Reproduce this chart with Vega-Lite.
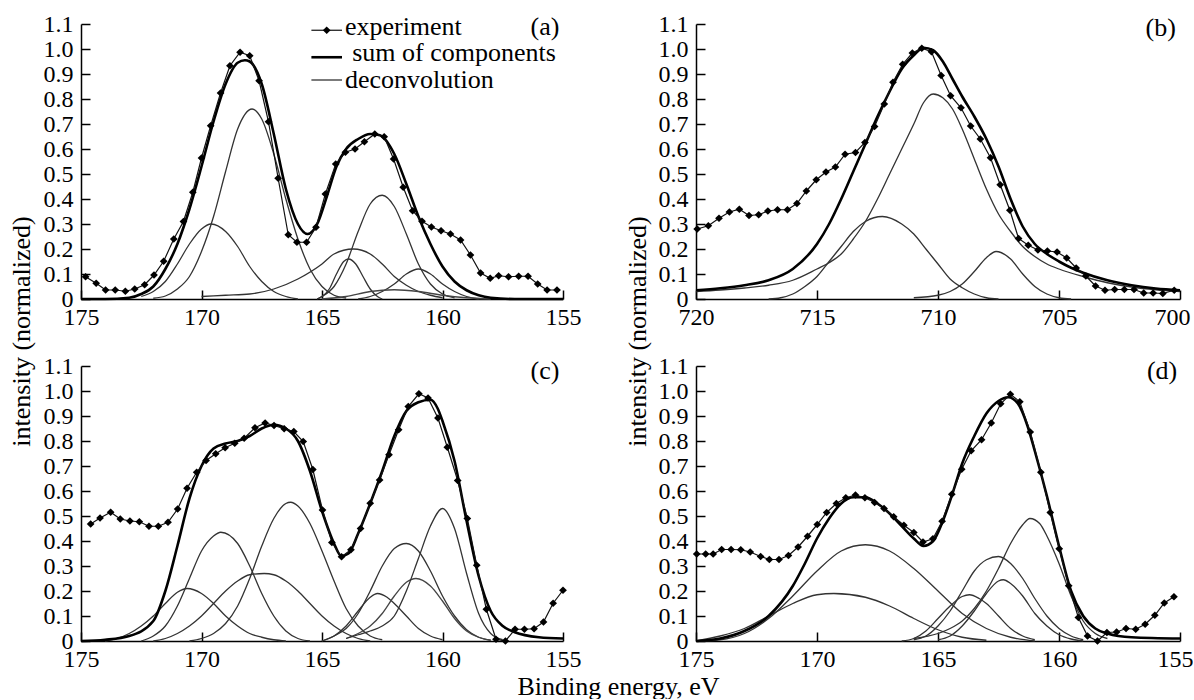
{
"$schema": "https://vega.github.io/schema/vega-lite/v6.json",
"padding": {"left": 8, "top": 12, "right": 0, "bottom": 0},
"background": "white",
"config": {
  "font": "Liberation Serif",
  "view": {"stroke": null},
  "axis": {"labelFont": "Liberation Serif", "labelFontSize": 24, "labelOverlap": false, "labelFlush": false, "labelBound": false, "titleFont": "Liberation Serif", "titleFontSize": 26, "titleFontWeight": "normal"},
  "text": {"font": "Liberation Serif", "fontSize": 26, "color": "#000"}
},
"datasets": {
"a": [
{"s":"exp","x":174.81,"y":0.089},{"s":"exp","x":174.37,"y":0.063},{"s":"exp","x":173.98,"y":0.036},{"s":"exp","x":173.58,"y":0.036},{"s":"exp","x":173.16,"y":0.031},{"s":"exp","x":172.77,"y":0.04},{"s":"exp","x":172.36,"y":0.057},{"s":"exp","x":171.97,"y":0.096},{"s":"exp","x":171.57,"y":0.151},{"s":"exp","x":171.15,"y":0.24},{"s":"exp","x":170.75,"y":0.31},{"s":"exp","x":170.36,"y":0.427},{"s":"exp","x":170.0,"y":0.564},{"s":"exp","x":169.62,"y":0.693},{"s":"exp","x":169.21,"y":0.824},{"s":"exp","x":168.82,"y":0.933},{"s":"exp","x":168.4,"y":0.987},{"s":"exp","x":168.0,"y":0.973},{"s":"exp","x":167.61,"y":0.873},{"s":"exp","x":167.22,"y":0.709},{"s":"exp","x":166.82,"y":0.483},{"s":"exp","x":166.4,"y":0.257},{"s":"exp","x":166.04,"y":0.227},{"s":"exp","x":165.64,"y":0.227},{"s":"exp","x":165.25,"y":0.287},{"s":"exp","x":164.86,"y":0.42},{"s":"exp","x":164.43,"y":0.54},{"s":"exp","x":164.03,"y":0.587},{"s":"exp","x":163.63,"y":0.6},{"s":"exp","x":163.24,"y":0.629},{"s":"exp","x":162.81,"y":0.66},{"s":"exp","x":162.42,"y":0.649},{"s":"exp","x":162.03,"y":0.56},{"s":"exp","x":161.63,"y":0.447},{"s":"exp","x":161.24,"y":0.353},{"s":"exp","x":160.85,"y":0.311},{"s":"exp","x":160.46,"y":0.288},{"s":"exp","x":160.06,"y":0.273},{"s":"exp","x":159.67,"y":0.26},{"s":"exp","x":159.25,"y":0.236},{"s":"exp","x":158.84,"y":0.176},{"s":"exp","x":158.42,"y":0.104},{"s":"exp","x":158.02,"y":0.083},{"s":"exp","x":157.67,"y":0.093},{"s":"exp","x":157.26,"y":0.089},{"s":"exp","x":156.84,"y":0.091},{"s":"exp","x":156.45,"y":0.091},{"s":"exp","x":156.05,"y":0.06},{"s":"exp","x":155.66,"y":0.036},{"s":"exp","x":155.25,"y":0.036},
{"s":"sum","x":175,"y":0.0},{"s":"sum","x":174,"y":0.0},{"s":"sum","x":173,"y":0.005},{"s":"sum","x":172.5,"y":0.02},{"s":"sum","x":172,"y":0.05},{"s":"sum","x":171.5,"y":0.12},{"s":"sum","x":171,"y":0.22},{"s":"sum","x":170.5,"y":0.36},{"s":"sum","x":170,"y":0.53},{"s":"sum","x":169.5,"y":0.71},{"s":"sum","x":169,"y":0.86},{"s":"sum","x":168.5,"y":0.945},{"s":"sum","x":168.2,"y":0.955},{"s":"sum","x":168,"y":0.95},{"s":"sum","x":167.5,"y":0.86},{"s":"sum","x":167,"y":0.66},{"s":"sum","x":166.5,"y":0.44},{"s":"sum","x":166,"y":0.3},{"s":"sum","x":165.6,"y":0.26},{"s":"sum","x":165.2,"y":0.3},{"s":"sum","x":164.8,"y":0.41},{"s":"sum","x":164.4,"y":0.53},{"s":"sum","x":164,"y":0.6},{"s":"sum","x":163.5,"y":0.64},{"s":"sum","x":163,"y":0.66},{"s":"sum","x":162.6,"y":0.655},{"s":"sum","x":162,"y":0.58},{"s":"sum","x":161.5,"y":0.46},{"s":"sum","x":161,"y":0.33},{"s":"sum","x":160.5,"y":0.22},{"s":"sum","x":160,"y":0.13},{"s":"sum","x":159.5,"y":0.07},{"s":"sum","x":159,"y":0.035},{"s":"sum","x":158.5,"y":0.015},{"s":"sum","x":158,"y":0.005},{"s":"sum","x":157,"y":0.0},{"s":"sum","x":155,"y":0.0},
{"s":"c1","x":172,"y":0.003},{"s":"c1","x":171.5,"y":0.012},{"s":"c1","x":171,"y":0.04},{"s":"c1","x":170.5,"y":0.09},{"s":"c1","x":170,"y":0.19},{"s":"c1","x":169.5,"y":0.33},{"s":"c1","x":169,"y":0.51},{"s":"c1","x":168.5,"y":0.68},{"s":"c1","x":167.9,"y":0.76},{"s":"c1","x":167.5,"y":0.72},{"s":"c1","x":167,"y":0.58},{"s":"c1","x":166.5,"y":0.4},{"s":"c1","x":166,"y":0.24},{"s":"c1","x":165.5,"y":0.12},{"s":"c1","x":165,"y":0.05},{"s":"c1","x":164.5,"y":0.015},{"s":"c1","x":164,"y":0.004},
{"s":"c2","x":172.5,"y":0.01},{"s":"c2","x":172,"y":0.03},{"s":"c2","x":171.5,"y":0.07},{"s":"c2","x":171,"y":0.14},{"s":"c2","x":170.5,"y":0.22},{"s":"c2","x":170,"y":0.28},{"s":"c2","x":169.6,"y":0.3},{"s":"c2","x":169,"y":0.27},{"s":"c2","x":168.5,"y":0.21},{"s":"c2","x":168,"y":0.13},{"s":"c2","x":167.5,"y":0.07},{"s":"c2","x":167,"y":0.03},{"s":"c2","x":166.5,"y":0.01},{"s":"c2","x":166,"y":0.0},
{"s":"c3","x":170,"y":0.01},{"s":"c3","x":169,"y":0.015},{"s":"c3","x":168,"y":0.02},{"s":"c3","x":167,"y":0.04},{"s":"c3","x":166,"y":0.08},{"s":"c3","x":165,"y":0.14},{"s":"c3","x":164.5,"y":0.18},{"s":"c3","x":163.7,"y":0.2},{"s":"c3","x":163,"y":0.18},{"s":"c3","x":162.5,"y":0.14},{"s":"c3","x":162,"y":0.09},{"s":"c3","x":161.5,"y":0.055},{"s":"c3","x":161,"y":0.03},{"s":"c3","x":160.5,"y":0.015},{"s":"c3","x":160,"y":0.005},
{"s":"c4","x":165.2,"y":0.0},{"s":"c4","x":165,"y":0.01},{"s":"c4","x":164.7,"y":0.04},{"s":"c4","x":164.4,"y":0.1},{"s":"c4","x":164.1,"y":0.15},{"s":"c4","x":163.9,"y":0.16},{"s":"c4","x":163.6,"y":0.14},{"s":"c4","x":163.3,"y":0.09},{"s":"c4","x":163,"y":0.04},{"s":"c4","x":162.7,"y":0.01},{"s":"c4","x":162.5,"y":0.0},
{"s":"c5","x":165.2,"y":0.0},{"s":"c5","x":165,"y":0.01},{"s":"c5","x":164.5,"y":0.05},{"s":"c5","x":164,"y":0.14},{"s":"c5","x":163.5,"y":0.27},{"s":"c5","x":163,"y":0.38},{"s":"c5","x":162.5,"y":0.415},{"s":"c5","x":162,"y":0.37},{"s":"c5","x":161.5,"y":0.26},{"s":"c5","x":161,"y":0.14},{"s":"c5","x":160.5,"y":0.06},{"s":"c5","x":160,"y":0.02},{"s":"c5","x":159.5,"y":0.005},
{"s":"c6","x":163.5,"y":0.0},{"s":"c6","x":163,"y":0.01},{"s":"c6","x":162.5,"y":0.03},{"s":"c6","x":162,"y":0.06},{"s":"c6","x":161.5,"y":0.1},{"s":"c6","x":161,"y":0.12},{"s":"c6","x":160.5,"y":0.1},{"s":"c6","x":160,"y":0.06},{"s":"c6","x":159.5,"y":0.03},{"s":"c6","x":159,"y":0.01},{"s":"c6","x":158.5,"y":0.0},
{"s":"c7","x":165,"y":0.0},{"s":"c7","x":164,"y":0.01},{"s":"c7","x":163,"y":0.03},{"s":"c7","x":162,"y":0.037},{"s":"c7","x":161,"y":0.03},{"s":"c7","x":160,"y":0.015},{"s":"c7","x":159,"y":0.005},{"s":"c7","x":158,"y":0.0}
],
"b": [
{"s":"exp","x":719.95,"y":0.28},{"s":"exp","x":719.49,"y":0.293},{"s":"exp","x":719.05,"y":0.323},{"s":"exp","x":718.62,"y":0.348},{"s":"exp","x":718.21,"y":0.359},{"s":"exp","x":717.81,"y":0.334},{"s":"exp","x":717.41,"y":0.337},{"s":"exp","x":717.03,"y":0.352},{"s":"exp","x":716.63,"y":0.357},{"s":"exp","x":716.22,"y":0.357},{"s":"exp","x":715.83,"y":0.382},{"s":"exp","x":715.44,"y":0.432},{"s":"exp","x":715.03,"y":0.477},{"s":"exp","x":714.63,"y":0.508},{"s":"exp","x":714.24,"y":0.528},{"s":"exp","x":713.84,"y":0.579},{"s":"exp","x":713.41,"y":0.586},{"s":"exp","x":713.02,"y":0.626},{"s":"exp","x":712.62,"y":0.69},{"s":"exp","x":712.22,"y":0.78},{"s":"exp","x":711.86,"y":0.867},{"s":"exp","x":711.46,"y":0.939},{"s":"exp","x":711.06,"y":0.984},{"s":"exp","x":710.67,"y":1.003},{"s":"exp","x":710.27,"y":0.989},{"s":"exp","x":709.87,"y":0.894},{"s":"exp","x":709.48,"y":0.813},{"s":"exp","x":709.05,"y":0.765},{"s":"exp","x":708.65,"y":0.692},{"s":"exp","x":708.25,"y":0.64},{"s":"exp","x":707.83,"y":0.565},{"s":"exp","x":707.43,"y":0.457},{"s":"exp","x":707.03,"y":0.355},{"s":"exp","x":706.67,"y":0.242},{"s":"exp","x":706.27,"y":0.215},{"s":"exp","x":705.87,"y":0.196},{"s":"exp","x":705.48,"y":0.192},{"s":"exp","x":705.08,"y":0.188},{"s":"exp","x":704.68,"y":0.164},{"s":"exp","x":704.29,"y":0.124},{"s":"exp","x":703.89,"y":0.092},{"s":"exp","x":703.49,"y":0.052},{"s":"exp","x":703.1,"y":0.035},{"s":"exp","x":702.7,"y":0.038},{"s":"exp","x":702.3,"y":0.038},{"s":"exp","x":701.9,"y":0.038},{"s":"exp","x":701.5,"y":0.024},{"s":"exp","x":701.11,"y":0.024},{"s":"exp","x":700.71,"y":0.022},{"s":"exp","x":700.24,"y":0.035},
{"s":"sum","x":720,"y":0.035},{"s":"sum","x":719,"y":0.043},{"s":"sum","x":718,"y":0.055},{"s":"sum","x":717,"y":0.075},{"s":"sum","x":716,"y":0.12},{"s":"sum","x":715,"y":0.22},{"s":"sum","x":714.5,"y":0.3},{"s":"sum","x":714,"y":0.4},{"s":"sum","x":713.5,"y":0.51},{"s":"sum","x":713,"y":0.62},{"s":"sum","x":712.5,"y":0.73},{"s":"sum","x":712,"y":0.83},{"s":"sum","x":711.5,"y":0.92},{"s":"sum","x":711,"y":0.975},{"s":"sum","x":710.6,"y":1.005},{"s":"sum","x":710.2,"y":0.995},{"s":"sum","x":709.8,"y":0.95},{"s":"sum","x":709.4,"y":0.88},{"s":"sum","x":709,"y":0.81},{"s":"sum","x":708.5,"y":0.73},{"s":"sum","x":708,"y":0.64},{"s":"sum","x":707.5,"y":0.53},{"s":"sum","x":707,"y":0.4},{"s":"sum","x":706.5,"y":0.29},{"s":"sum","x":706,"y":0.22},{"s":"sum","x":705.5,"y":0.18},{"s":"sum","x":705,"y":0.15},{"s":"sum","x":704.5,"y":0.125},{"s":"sum","x":704,"y":0.105},{"s":"sum","x":703,"y":0.075},{"s":"sum","x":702,"y":0.055},{"s":"sum","x":701,"y":0.042},{"s":"sum","x":700,"y":0.035},
{"s":"c1","x":720,"y":0.03},{"s":"c1","x":719,"y":0.036},{"s":"c1","x":718,"y":0.044},{"s":"c1","x":717,"y":0.055},{"s":"c1","x":716,"y":0.075},{"s":"c1","x":715,"y":0.12},{"s":"c1","x":714.5,"y":0.145},{"s":"c1","x":714,"y":0.18},{"s":"c1","x":713.5,"y":0.24},{"s":"c1","x":713,"y":0.31},{"s":"c1","x":712.5,"y":0.4},{"s":"c1","x":712,"y":0.5},{"s":"c1","x":711.5,"y":0.6},{"s":"c1","x":711,"y":0.7},{"s":"c1","x":710.6,"y":0.785},{"s":"c1","x":710.2,"y":0.82},{"s":"c1","x":709.8,"y":0.805},{"s":"c1","x":709.4,"y":0.76},{"s":"c1","x":709,"y":0.68},{"s":"c1","x":708.5,"y":0.56},{"s":"c1","x":708,"y":0.44},{"s":"c1","x":707.5,"y":0.34},{"s":"c1","x":707,"y":0.27},{"s":"c1","x":706.5,"y":0.21},{"s":"c1","x":706,"y":0.17},{"s":"c1","x":705.5,"y":0.14},{"s":"c1","x":705,"y":0.12},{"s":"c1","x":704,"y":0.09},{"s":"c1","x":703,"y":0.065},{"s":"c1","x":702,"y":0.048},{"s":"c1","x":701,"y":0.037},{"s":"c1","x":700,"y":0.03},
{"s":"c2","x":717,"y":0.0},{"s":"c2","x":716.5,"y":0.005},{"s":"c2","x":716,"y":0.02},{"s":"c2","x":715.5,"y":0.05},{"s":"c2","x":715,"y":0.09},{"s":"c2","x":714.5,"y":0.15},{"s":"c2","x":714,"y":0.21},{"s":"c2","x":713.5,"y":0.27},{"s":"c2","x":713,"y":0.31},{"s":"c2","x":712.3,"y":0.33},{"s":"c2","x":711.5,"y":0.3},{"s":"c2","x":711,"y":0.26},{"s":"c2","x":710.5,"y":0.2},{"s":"c2","x":710,"y":0.14},{"s":"c2","x":709.5,"y":0.08},{"s":"c2","x":709,"y":0.045},{"s":"c2","x":708.5,"y":0.02},{"s":"c2","x":708,"y":0.005},{"s":"c2","x":707.5,"y":0.0},
{"s":"c3","x":711,"y":0.005},{"s":"c3","x":710,"y":0.015},{"s":"c3","x":709.5,"y":0.03},{"s":"c3","x":709,"y":0.06},{"s":"c3","x":708.5,"y":0.11},{"s":"c3","x":708,"y":0.165},{"s":"c3","x":707.6,"y":0.19},{"s":"c3","x":707,"y":0.16},{"s":"c3","x":706.5,"y":0.1},{"s":"c3","x":706,"y":0.05},{"s":"c3","x":705.5,"y":0.02},{"s":"c3","x":705,"y":0.005},{"s":"c3","x":704.5,"y":0.0}
],
"c": [
{"s":"exp","x":174.6,"y":0.468},{"s":"exp","x":174.21,"y":0.492},{"s":"exp","x":173.77,"y":0.515},{"s":"exp","x":173.37,"y":0.488},{"s":"exp","x":172.97,"y":0.48},{"s":"exp","x":172.58,"y":0.477},{"s":"exp","x":172.18,"y":0.459},{"s":"exp","x":171.79,"y":0.459},{"s":"exp","x":171.39,"y":0.475},{"s":"exp","x":170.99,"y":0.528},{"s":"exp","x":170.6,"y":0.611},{"s":"exp","x":170.2,"y":0.675},{"s":"exp","x":169.81,"y":0.722},{"s":"exp","x":169.41,"y":0.749},{"s":"exp","x":169.02,"y":0.773},{"s":"exp","x":168.62,"y":0.791},{"s":"exp","x":168.23,"y":0.811},{"s":"exp","x":167.78,"y":0.853},{"s":"exp","x":167.36,"y":0.872},{"s":"exp","x":166.99,"y":0.862},{"s":"exp","x":166.57,"y":0.849},{"s":"exp","x":166.17,"y":0.838},{"s":"exp","x":165.78,"y":0.798},{"s":"exp","x":165.38,"y":0.686},{"s":"exp","x":164.98,"y":0.524},{"s":"exp","x":164.59,"y":0.394},{"s":"exp","x":164.19,"y":0.337},{"s":"exp","x":163.8,"y":0.365},{"s":"exp","x":163.4,"y":0.45},{"s":"exp","x":163.0,"y":0.551},{"s":"exp","x":162.61,"y":0.644},{"s":"exp","x":162.22,"y":0.745},{"s":"exp","x":161.82,"y":0.845},{"s":"exp","x":161.42,"y":0.938},{"s":"exp","x":160.98,"y":0.989},{"s":"exp","x":160.6,"y":0.972},{"s":"exp","x":160.19,"y":0.892},{"s":"exp","x":159.8,"y":0.775},{"s":"exp","x":159.37,"y":0.642},{"s":"exp","x":158.97,"y":0.49},{"s":"exp","x":158.58,"y":0.303},{"s":"exp","x":158.18,"y":0.127},{"s":"exp","x":157.78,"y":0.007},{"s":"exp","x":157.39,"y":0.0},{"s":"exp","x":156.99,"y":0.047},{"s":"exp","x":156.6,"y":0.047},{"s":"exp","x":156.2,"y":0.049},{"s":"exp","x":155.81,"y":0.076},{"s":"exp","x":155.41,"y":0.151},{"s":"exp","x":155.0,"y":0.203},
{"s":"sum","x":175,"y":0.0},{"s":"sum","x":174,"y":0.005},{"s":"sum","x":173,"y":0.02},{"s":"sum","x":172,"y":0.08},{"s":"sum","x":171.5,"y":0.2},{"s":"sum","x":171,"y":0.38},{"s":"sum","x":170.5,"y":0.57},{"s":"sum","x":170,"y":0.7},{"s":"sum","x":169.5,"y":0.77},{"s":"sum","x":169,"y":0.79},{"s":"sum","x":168.5,"y":0.8},{"s":"sum","x":168,"y":0.82},{"s":"sum","x":167.5,"y":0.85},{"s":"sum","x":167,"y":0.865},{"s":"sum","x":166.5,"y":0.85},{"s":"sum","x":166,"y":0.8},{"s":"sum","x":165.5,"y":0.68},{"s":"sum","x":165,"y":0.52},{"s":"sum","x":164.5,"y":0.39},{"s":"sum","x":164.2,"y":0.34},{"s":"sum","x":163.9,"y":0.35},{"s":"sum","x":163.5,"y":0.43},{"s":"sum","x":163,"y":0.55},{"s":"sum","x":162.5,"y":0.68},{"s":"sum","x":162,"y":0.82},{"s":"sum","x":161.5,"y":0.92},{"s":"sum","x":161,"y":0.955},{"s":"sum","x":160.5,"y":0.965},{"s":"sum","x":160.2,"y":0.93},{"s":"sum","x":160,"y":0.88},{"s":"sum","x":159.5,"y":0.72},{"s":"sum","x":159,"y":0.48},{"s":"sum","x":158.5,"y":0.26},{"s":"sum","x":158,"y":0.12},{"s":"sum","x":157.5,"y":0.06},{"s":"sum","x":157,"y":0.035},{"s":"sum","x":156,"y":0.015},{"s":"sum","x":155,"y":0.01},
{"s":"c1","x":174,"y":0.0},{"s":"c1","x":173.5,"y":0.01},{"s":"c1","x":173,"y":0.03},{"s":"c1","x":172.5,"y":0.06},{"s":"c1","x":172,"y":0.1},{"s":"c1","x":171.5,"y":0.15},{"s":"c1","x":171,"y":0.195},{"s":"c1","x":170.6,"y":0.21},{"s":"c1","x":170,"y":0.19},{"s":"c1","x":169.5,"y":0.15},{"s":"c1","x":169,"y":0.1},{"s":"c1","x":168.5,"y":0.06},{"s":"c1","x":168,"y":0.03},{"s":"c1","x":167.5,"y":0.015},{"s":"c1","x":167,"y":0.005},{"s":"c1","x":166.5,"y":0.0},
{"s":"c2","x":172.5,"y":0.0},{"s":"c2","x":172,"y":0.02},{"s":"c2","x":171.5,"y":0.06},{"s":"c2","x":171,"y":0.14},{"s":"c2","x":170.5,"y":0.25},{"s":"c2","x":170,"y":0.36},{"s":"c2","x":169.5,"y":0.42},{"s":"c2","x":169.2,"y":0.435},{"s":"c2","x":168.5,"y":0.39},{"s":"c2","x":168,"y":0.3},{"s":"c2","x":167.5,"y":0.19},{"s":"c2","x":167,"y":0.1},{"s":"c2","x":166.5,"y":0.04},{"s":"c2","x":166,"y":0.01},{"s":"c2","x":165.5,"y":0.0},
{"s":"c3","x":172,"y":0.0},{"s":"c3","x":171.5,"y":0.01},{"s":"c3","x":171,"y":0.03},{"s":"c3","x":170.5,"y":0.06},{"s":"c3","x":170,"y":0.1},{"s":"c3","x":169.5,"y":0.15},{"s":"c3","x":169,"y":0.2},{"s":"c3","x":168.5,"y":0.24},{"s":"c3","x":168,"y":0.265},{"s":"c3","x":167.4,"y":0.27},{"s":"c3","x":167,"y":0.265},{"s":"c3","x":166.5,"y":0.24},{"s":"c3","x":166,"y":0.2},{"s":"c3","x":165.5,"y":0.15},{"s":"c3","x":165,"y":0.1},{"s":"c3","x":164.5,"y":0.06},{"s":"c3","x":164,"y":0.03},{"s":"c3","x":163.5,"y":0.01},{"s":"c3","x":163,"y":0.0},
{"s":"c4","x":170.5,"y":0.0},{"s":"c4","x":170,"y":0.01},{"s":"c4","x":169.5,"y":0.03},{"s":"c4","x":169,"y":0.07},{"s":"c4","x":168.5,"y":0.14},{"s":"c4","x":168,"y":0.25},{"s":"c4","x":167.5,"y":0.38},{"s":"c4","x":167,"y":0.49},{"s":"c4","x":166.5,"y":0.55},{"s":"c4","x":166.3,"y":0.555},{"s":"c4","x":166,"y":0.54},{"s":"c4","x":165.5,"y":0.47},{"s":"c4","x":165,"y":0.36},{"s":"c4","x":164.5,"y":0.24},{"s":"c4","x":164,"y":0.13},{"s":"c4","x":163.5,"y":0.06},{"s":"c4","x":163,"y":0.02},{"s":"c4","x":162.5,"y":0.005},
{"s":"c5","x":165,"y":0.0},{"s":"c5","x":164.5,"y":0.02},{"s":"c5","x":164,"y":0.06},{"s":"c5","x":163.5,"y":0.12},{"s":"c5","x":163,"y":0.175},{"s":"c5","x":162.7,"y":0.19},{"s":"c5","x":162.3,"y":0.175},{"s":"c5","x":162,"y":0.15},{"s":"c5","x":161.5,"y":0.1},{"s":"c5","x":161,"y":0.05},{"s":"c5","x":160.5,"y":0.02},{"s":"c5","x":160,"y":0.005},
{"s":"c6","x":165,"y":0.0},{"s":"c6","x":164.5,"y":0.02},{"s":"c6","x":164,"y":0.05},{"s":"c6","x":163.5,"y":0.11},{"s":"c6","x":163,"y":0.2},{"s":"c6","x":162.5,"y":0.3},{"s":"c6","x":162,"y":0.37},{"s":"c6","x":161.5,"y":0.39},{"s":"c6","x":161,"y":0.36},{"s":"c6","x":160.5,"y":0.28},{"s":"c6","x":160,"y":0.18},{"s":"c6","x":159.5,"y":0.1},{"s":"c6","x":159,"y":0.045},{"s":"c6","x":158.5,"y":0.015},{"s":"c6","x":158,"y":0.003},
{"s":"c7","x":164,"y":0.01},{"s":"c7","x":163.5,"y":0.03},{"s":"c7","x":163,"y":0.06},{"s":"c7","x":162.5,"y":0.11},{"s":"c7","x":162,"y":0.18},{"s":"c7","x":161.5,"y":0.235},{"s":"c7","x":161.1,"y":0.25},{"s":"c7","x":160.5,"y":0.22},{"s":"c7","x":160,"y":0.16},{"s":"c7","x":159.5,"y":0.09},{"s":"c7","x":159,"y":0.04},{"s":"c7","x":158.5,"y":0.015},{"s":"c7","x":158,"y":0.003},
{"s":"c8","x":164,"y":0.01},{"s":"c8","x":163.5,"y":0.025},{"s":"c8","x":163,"y":0.04},{"s":"c8","x":162.5,"y":0.06},{"s":"c8","x":162,"y":0.1},{"s":"c8","x":161.5,"y":0.2},{"s":"c8","x":161,"y":0.33},{"s":"c8","x":160.5,"y":0.46},{"s":"c8","x":160,"y":0.53},{"s":"c8","x":159.5,"y":0.45},{"s":"c8","x":159,"y":0.27},{"s":"c8","x":158.5,"y":0.11},{"s":"c8","x":158,"y":0.03},{"s":"c8","x":157.5,"y":0.005}
],
"d": [
{"s":"exp","x":174.97,"y":0.348},{"s":"exp","x":174.6,"y":0.348},{"s":"exp","x":174.29,"y":0.348},{"s":"exp","x":173.94,"y":0.366},{"s":"exp","x":173.55,"y":0.366},{"s":"exp","x":173.15,"y":0.365},{"s":"exp","x":172.76,"y":0.356},{"s":"exp","x":172.33,"y":0.338},{"s":"exp","x":171.97,"y":0.326},{"s":"exp","x":171.57,"y":0.326},{"s":"exp","x":171.18,"y":0.342},{"s":"exp","x":170.78,"y":0.376},{"s":"exp","x":170.39,"y":0.419},{"s":"exp","x":169.99,"y":0.466},{"s":"exp","x":169.6,"y":0.514},{"s":"exp","x":169.2,"y":0.55},{"s":"exp","x":168.81,"y":0.573},{"s":"exp","x":168.41,"y":0.584},{"s":"exp","x":168.02,"y":0.573},{"s":"exp","x":167.62,"y":0.554},{"s":"exp","x":167.23,"y":0.53},{"s":"exp","x":166.83,"y":0.497},{"s":"exp","x":166.41,"y":0.463},{"s":"exp","x":166.0,"y":0.434},{"s":"exp","x":165.62,"y":0.396},{"s":"exp","x":165.21,"y":0.409},{"s":"exp","x":164.83,"y":0.479},{"s":"exp","x":164.43,"y":0.587},{"s":"exp","x":164.02,"y":0.687},{"s":"exp","x":163.63,"y":0.761},{"s":"exp","x":163.2,"y":0.805},{"s":"exp","x":162.8,"y":0.872},{"s":"exp","x":162.41,"y":0.949},{"s":"exp","x":162.01,"y":0.987},{"s":"exp","x":161.62,"y":0.957},{"s":"exp","x":161.19,"y":0.836},{"s":"exp","x":160.75,"y":0.675},{"s":"exp","x":160.36,"y":0.514},{"s":"exp","x":159.99,"y":0.369},{"s":"exp","x":159.6,"y":0.221},{"s":"exp","x":159.2,"y":0.094},{"s":"exp","x":158.82,"y":0.02},{"s":"exp","x":158.41,"y":0.0},{"s":"exp","x":158.02,"y":0.034},{"s":"exp","x":157.62,"y":0.036},{"s":"exp","x":157.23,"y":0.05},{"s":"exp","x":156.83,"y":0.047},{"s":"exp","x":156.44,"y":0.067},{"s":"exp","x":156.04,"y":0.103},{"s":"exp","x":155.65,"y":0.152},{"s":"exp","x":155.25,"y":0.177},
{"s":"sum","x":175,"y":0.0},{"s":"sum","x":174,"y":0.01},{"s":"sum","x":173,"y":0.04},{"s":"sum","x":172,"y":0.1},{"s":"sum","x":171,"y":0.22},{"s":"sum","x":170.5,"y":0.31},{"s":"sum","x":170,"y":0.41},{"s":"sum","x":169.5,"y":0.49},{"s":"sum","x":169,"y":0.55},{"s":"sum","x":168.5,"y":0.575},{"s":"sum","x":168,"y":0.575},{"s":"sum","x":167.5,"y":0.55},{"s":"sum","x":167,"y":0.51},{"s":"sum","x":166.5,"y":0.46},{"s":"sum","x":166,"y":0.41},{"s":"sum","x":165.6,"y":0.38},{"s":"sum","x":165.2,"y":0.4},{"s":"sum","x":164.8,"y":0.48},{"s":"sum","x":164.4,"y":0.59},{"s":"sum","x":164,"y":0.71},{"s":"sum","x":163.5,"y":0.82},{"s":"sum","x":163,"y":0.91},{"s":"sum","x":162.5,"y":0.96},{"s":"sum","x":162.1,"y":0.975},{"s":"sum","x":161.7,"y":0.95},{"s":"sum","x":161.3,"y":0.86},{"s":"sum","x":161,"y":0.76},{"s":"sum","x":160.5,"y":0.58},{"s":"sum","x":160,"y":0.38},{"s":"sum","x":159.5,"y":0.2},{"s":"sum","x":159,"y":0.1},{"s":"sum","x":158.5,"y":0.05},{"s":"sum","x":158,"y":0.03},{"s":"sum","x":157,"y":0.015},{"s":"sum","x":155,"y":0.01},
{"s":"c1","x":175,"y":0.0},{"s":"c1","x":174,"y":0.005},{"s":"c1","x":173,"y":0.03},{"s":"c1","x":172,"y":0.09},{"s":"c1","x":171,"y":0.18},{"s":"c1","x":170,"y":0.28},{"s":"c1","x":169,"y":0.36},{"s":"c1","x":168,"y":0.385},{"s":"c1","x":167,"y":0.36},{"s":"c1","x":166,"y":0.29},{"s":"c1","x":165,"y":0.2},{"s":"c1","x":164,"y":0.11},{"s":"c1","x":163,"y":0.05},{"s":"c1","x":162,"y":0.015},{"s":"c1","x":161,"y":0.0},
{"s":"c2","x":175,"y":0.0},{"s":"c2","x":174,"y":0.02},{"s":"c2","x":173,"y":0.05},{"s":"c2","x":172,"y":0.1},{"s":"c2","x":171,"y":0.15},{"s":"c2","x":170,"y":0.185},{"s":"c2","x":169.3,"y":0.19},{"s":"c2","x":168,"y":0.175},{"s":"c2","x":167,"y":0.14},{"s":"c2","x":166,"y":0.09},{"s":"c2","x":165,"y":0.045},{"s":"c2","x":164,"y":0.015},{"s":"c2","x":163,"y":0.003},
{"s":"c3","x":166.5,"y":0.0},{"s":"c3","x":166,"y":0.01},{"s":"c3","x":165.5,"y":0.04},{"s":"c3","x":165,"y":0.09},{"s":"c3","x":164.5,"y":0.14},{"s":"c3","x":164,"y":0.178},{"s":"c3","x":163.7,"y":0.185},{"s":"c3","x":163.3,"y":0.17},{"s":"c3","x":163,"y":0.15},{"s":"c3","x":162.5,"y":0.1},{"s":"c3","x":162,"y":0.05},{"s":"c3","x":161.5,"y":0.02},{"s":"c3","x":161,"y":0.005},
{"s":"c4","x":166,"y":0.005},{"s":"c4","x":165.5,"y":0.02},{"s":"c4","x":165,"y":0.06},{"s":"c4","x":164.5,"y":0.12},{"s":"c4","x":164,"y":0.2},{"s":"c4","x":163.5,"y":0.28},{"s":"c4","x":163,"y":0.325},{"s":"c4","x":162.5,"y":0.338},{"s":"c4","x":162,"y":0.31},{"s":"c4","x":161.5,"y":0.25},{"s":"c4","x":161,"y":0.17},{"s":"c4","x":160.5,"y":0.1},{"s":"c4","x":160,"y":0.05},{"s":"c4","x":159.5,"y":0.02},{"s":"c4","x":159,"y":0.005},
{"s":"c5","x":165,"y":0.005},{"s":"c5","x":164.5,"y":0.02},{"s":"c5","x":164,"y":0.06},{"s":"c5","x":163.5,"y":0.12},{"s":"c5","x":163,"y":0.19},{"s":"c5","x":162.5,"y":0.24},{"s":"c5","x":162.3,"y":0.245},{"s":"c5","x":162,"y":0.23},{"s":"c5","x":161.5,"y":0.18},{"s":"c5","x":161,"y":0.11},{"s":"c5","x":160.5,"y":0.06},{"s":"c5","x":160,"y":0.025},{"s":"c5","x":159.5,"y":0.008},{"s":"c5","x":159,"y":0.0},
{"s":"c6","x":166,"y":0.01},{"s":"c6","x":165,"y":0.03},{"s":"c6","x":164.5,"y":0.05},{"s":"c6","x":164,"y":0.08},{"s":"c6","x":163.5,"y":0.13},{"s":"c6","x":163,"y":0.2},{"s":"c6","x":162.5,"y":0.29},{"s":"c6","x":162,"y":0.39},{"s":"c6","x":161.5,"y":0.465},{"s":"c6","x":161.2,"y":0.49},{"s":"c6","x":160.8,"y":0.47},{"s":"c6","x":160.5,"y":0.42},{"s":"c6","x":160,"y":0.31},{"s":"c6","x":159.5,"y":0.18},{"s":"c6","x":159,"y":0.08},{"s":"c6","x":158.5,"y":0.03},{"s":"c6","x":158,"y":0.01}
],
"labels": [
{"p":"a","t":"(a)","x":155.75,"y":1.09},{"p":"b","t":"(b)","x":700.8,"y":1.085},{"p":"c","t":"(c)","x":155.75,"y":1.08},{"p":"d","t":"(d)","x":155.74,"y":1.08}
],
"legline": [
{"s":"exp","x":165.44,"y":1.075},{"s":"exp","x":164.17,"y":1.075},{"s":"sum","x":165.44,"y":0.967},{"s":"sum","x":164.17,"y":0.967},{"s":"dec","x":165.44,"y":0.876},{"s":"dec","x":164.17,"y":0.876}
],
"legtext": [
{"t":"experiment","x":164.05,"y":1.09},{"t":"sum of components","x":163.75,"y":0.985},{"t":"deconvolution","x":164.05,"y":0.878}
]
},
"columns": 2,
"spacing": {"row": 67, "column": 133},
"bounds": "flush",
"concat": [
{
"width": 482, "height": 275,
"encoding": {
  "x": {"field": "x", "type": "quantitative", "scale": {"domain": [155, 175], "reverse": true, "nice": false, "zero": false}, "axis": {"values": [175, 170, 165, 160, 155], "format": "d", "title": null, "grid": false, "domainColor": "#000", "domainWidth": 1.5, "tickColor": "#000", "tickWidth": 1.5, "tickSize": -9, "labelPadding": 15, "labelFont": "Liberation Serif", "labelFontSize": 24, "labelColor": "#000", "labelOverlap": false, "labelFlush": false, "labelBound": false}},
  "y": {"field": "y", "type": "quantitative", "scale": {"domain": [0, 1.1], "nice": false}, "axis": {"values": [0, 0.1, 0.2, 0.3, 0.4, 0.5, 0.6, 0.7, 0.8, 0.9, 1.0, 1.1], "labelExpr": "datum.value == 0 ? '0' : format(datum.value, '.1f')", "title": null, "grid": false, "domainColor": "#000", "domainWidth": 1.5, "tickColor": "#000", "tickWidth": 1.5, "tickSize": -9, "labelPadding": 17, "labelFont": "Liberation Serif", "labelFontSize": 24, "labelColor": "#000", "labelOverlap": false, "labelFlush": false, "labelBound": false}}
},
"layer": [
{"data": {"name": "a"}, "transform": [{"filter": "datum.s != 'exp' && datum.s != 'sum'"}],
 "mark": {"type": "line", "strokeWidth": 1.3, "interpolate": "monotone"},
 "encoding": {"detail": {"field": "s"}, "color": {"field": "s", "type": "nominal", "scale": {"domain": ["c1","c2","c3","c4","c5","c6","c7"], "range": ["#333","#333","#333","#333","#333","#333","#444"]}, "legend": null}}},
{"data": {"name": "a"}, "transform": [{"filter": "datum.s == 'sum'"}],
 "mark": {"type": "line", "strokeWidth": 2.6, "color": "#000", "interpolate": "monotone"}, "encoding": {}},
{"data": {"name": "a"}, "transform": [{"filter": "datum.s == 'exp'"}],
 "mark": {"type": "line", "strokeWidth": 1.2, "color": "#111", "point": {"shape": "diamond", "size": 60, "filled": true, "color": "#000"}}, "encoding": {}},
{"data": {"name": "legline"}, "transform": [{"filter": "datum.s == 'exp'"}],
 "mark": {"type": "line", "strokeWidth": 1.2, "color": "#111"}, "encoding": {}},
{"data": {"name": "legline"}, "transform": [{"filter": "datum.s == 'sum'"}],
 "mark": {"type": "line", "strokeWidth": 2.6, "color": "#000"}, "encoding": {}},
{"data": {"name": "legline"}, "transform": [{"filter": "datum.s == 'dec'"}],
 "mark": {"type": "line", "strokeWidth": 1.3, "color": "#333"}, "encoding": {}},
{"data": {"name": "legline"}, "transform": [{"filter": "datum.s == 'exp'"}, {"aggregate": [{"op": "mean", "field": "x", "as": "x"}, {"op": "mean", "field": "y", "as": "y"}]}],
 "mark": {"type": "point", "shape": "diamond", "size": 60, "filled": true, "color": "#000", "opacity": 1}},
{"data": {"name": "legtext"},
 "mark": {"type": "text", "align": "left", "baseline": "middle"},
 "encoding": {"text": {"field": "t"}}},
{"data": {"name": "labels"}, "transform": [{"filter": "datum.p == 'a'"}],
 "mark": {"type": "text", "align": "center", "baseline": "middle"},
 "encoding": {"text": {"field": "t"}}}
]
},
{
"width": 484, "height": 275,
"encoding": {
  "x": {"field": "x", "type": "quantitative", "scale": {"domain": [700, 720], "reverse": true, "nice": false, "zero": false}, "axis": {"values": [720, 715, 710, 705, 700], "format": "d", "title": null, "grid": false, "domainColor": "#000", "domainWidth": 1.5, "tickColor": "#000", "tickWidth": 1.5, "tickSize": -9, "labelPadding": 15, "labelFont": "Liberation Serif", "labelFontSize": 24, "labelColor": "#000", "labelOverlap": false, "labelFlush": false, "labelBound": false, "labelOffset": {"condition": {"test": "datum.value == 700", "value": -8}, "value": 0}}},
  "y": {"field": "y", "type": "quantitative", "scale": {"domain": [0, 1.1], "nice": false}, "axis": {"values": [0, 0.1, 0.2, 0.3, 0.4, 0.5, 0.6, 0.7, 0.8, 0.9, 1.0, 1.1], "labelExpr": "datum.value == 0 ? '0' : format(datum.value, '.1f')", "title": null, "grid": false, "domainColor": "#000", "domainWidth": 1.5, "tickColor": "#000", "tickWidth": 1.5, "tickSize": -9, "labelPadding": 17, "labelFont": "Liberation Serif", "labelFontSize": 24, "labelColor": "#000", "labelOverlap": false, "labelFlush": false, "labelBound": false}}
},
"layer": [
{"data": {"name": "b"}, "transform": [{"filter": "datum.s != 'exp' && datum.s != 'sum'"}],
 "mark": {"type": "line", "strokeWidth": 1.3, "interpolate": "monotone"},
 "encoding": {"detail": {"field": "s"}, "color": {"field": "s", "type": "nominal", "scale": {"domain": ["c1","c2","c3"], "range": ["#333","#808080","#333"]}, "legend": null}}},
{"data": {"name": "b"}, "transform": [{"filter": "datum.s == 'sum'"}],
 "mark": {"type": "line", "strokeWidth": 2.6, "color": "#000", "interpolate": "monotone"}, "encoding": {}},
{"data": {"name": "b"}, "transform": [{"filter": "datum.s == 'exp'"}],
 "mark": {"type": "line", "strokeWidth": 1.2, "color": "#111", "point": {"shape": "diamond", "size": 60, "filled": true, "color": "#000"}}, "encoding": {}},
{"data": {"name": "labels"}, "transform": [{"filter": "datum.p == 'b'"}],
 "mark": {"type": "text", "align": "center", "baseline": "middle"},
 "encoding": {"text": {"field": "t"}}}
]
},
{
"width": 482, "height": 275,
"encoding": {
  "x": {"field": "x", "type": "quantitative", "scale": {"domain": [155, 175], "reverse": true, "nice": false, "zero": false}, "axis": {"values": [175, 170, 165, 160, 155], "format": "d", "grid": false, "domainColor": "#000", "domainWidth": 1.5, "tickColor": "#000", "tickWidth": 1.5, "tickSize": -9, "labelPadding": 15, "labelFont": "Liberation Serif", "labelFontSize": 24, "labelColor": "#000", "labelOverlap": false, "labelFlush": false, "labelBound": false, "title": "Binding energy, eV", "titleFont": "Liberation Serif", "titleFontSize": 26, "titleFontWeight": "normal", "titleColor": "#000", "titleX": 537, "titleY": 53, "titleAlign": "center", "titleBaseline": "alphabetic"}},
  "y": {"field": "y", "type": "quantitative", "scale": {"domain": [0, 1.1], "nice": false}, "axis": {"values": [0, 0.1, 0.2, 0.3, 0.4, 0.5, 0.6, 0.7, 0.8, 0.9, 1.0, 1.1], "labelExpr": "datum.value == 0 ? '0' : format(datum.value, '.1f')", "grid": false, "domainColor": "#000", "domainWidth": 1.5, "tickColor": "#000", "tickWidth": 1.5, "tickSize": -9, "labelPadding": 17, "labelFont": "Liberation Serif", "labelFontSize": 24, "labelColor": "#000", "labelOverlap": false, "labelFlush": false, "labelBound": false, "title": "intensity (normalized)", "titleFont": "Liberation Serif", "titleFontSize": 26, "titleFontWeight": "normal", "titleColor": "#000", "titleX": -60, "titleY": -35, "titleAngle": -90, "titleAlign": "center", "titleBaseline": "middle"}}
},
"layer": [
{"data": {"name": "c"}, "transform": [{"filter": "datum.s != 'exp' && datum.s != 'sum'"}],
 "mark": {"type": "line", "strokeWidth": 1.3, "interpolate": "monotone"},
 "encoding": {"detail": {"field": "s"}, "color": {"field": "s", "type": "nominal", "scale": {"domain": ["c1","c2","c3","c4","c5","c6","c7","c8"], "range": ["#333","#8a8a8a","#333","#333","#333","#333","#333","#333"]}, "legend": null}}},
{"data": {"name": "c"}, "transform": [{"filter": "datum.s == 'sum'"}],
 "mark": {"type": "line", "strokeWidth": 2.6, "color": "#000", "interpolate": "monotone"}, "encoding": {}},
{"data": {"name": "c"}, "transform": [{"filter": "datum.s == 'exp'"}],
 "mark": {"type": "line", "strokeWidth": 1.2, "color": "#111", "point": {"shape": "diamond", "size": 60, "filled": true, "color": "#000"}}, "encoding": {}},
{"data": {"name": "labels"}, "transform": [{"filter": "datum.p == 'c'"}],
 "mark": {"type": "text", "align": "center", "baseline": "middle"},
 "encoding": {"text": {"field": "t"}}}
]
},
{
"width": 484, "height": 275,
"encoding": {
  "x": {"field": "x", "type": "quantitative", "scale": {"domain": [155, 175], "reverse": true, "nice": false, "zero": false}, "axis": {"values": [175, 170, 165, 160, 155], "format": "d", "title": null, "grid": false, "domainColor": "#000", "domainWidth": 1.5, "tickColor": "#000", "tickWidth": 1.5, "tickSize": -9, "labelPadding": 15, "labelFont": "Liberation Serif", "labelFontSize": 24, "labelColor": "#000", "labelOverlap": false, "labelFlush": false, "labelBound": false, "labelOffset": {"condition": {"test": "datum.value == 155", "value": -5}, "value": 0}}},
  "y": {"field": "y", "type": "quantitative", "scale": {"domain": [0, 1.1], "nice": false}, "axis": {"values": [0, 0.1, 0.2, 0.3, 0.4, 0.5, 0.6, 0.7, 0.8, 0.9, 1.0, 1.1], "labelExpr": "datum.value == 0 ? '0' : format(datum.value, '.1f')", "grid": false, "domainColor": "#000", "domainWidth": 1.5, "tickColor": "#000", "tickWidth": 1.5, "tickSize": -9, "labelPadding": 17, "labelFont": "Liberation Serif", "labelFontSize": 24, "labelColor": "#000", "labelOverlap": false, "labelFlush": false, "labelBound": false, "title": "intensity (normalized)", "titleFont": "Liberation Serif", "titleFontSize": 26, "titleFontWeight": "normal", "titleColor": "#000", "titleX": -59, "titleY": -35, "titleAngle": -90, "titleAlign": "center", "titleBaseline": "middle"}}
},
"layer": [
{"data": {"name": "d"}, "transform": [{"filter": "datum.s != 'exp' && datum.s != 'sum'"}],
 "mark": {"type": "line", "strokeWidth": 1.3, "interpolate": "monotone"},
 "encoding": {"detail": {"field": "s"}, "color": {"field": "s", "type": "nominal", "scale": {"domain": ["c1","c2","c3","c4","c5","c6"], "range": ["#333","#333","#333","#333","#333","#333"]}, "legend": null}}},
{"data": {"name": "d"}, "transform": [{"filter": "datum.s == 'sum'"}],
 "mark": {"type": "line", "strokeWidth": 2.6, "color": "#000", "interpolate": "monotone"}, "encoding": {}},
{"data": {"name": "d"}, "transform": [{"filter": "datum.s == 'exp'"}],
 "mark": {"type": "line", "strokeWidth": 1.2, "color": "#111", "point": {"shape": "diamond", "size": 60, "filled": true, "color": "#000"}}, "encoding": {}},
{"data": {"name": "labels"}, "transform": [{"filter": "datum.p == 'd'"}],
 "mark": {"type": "text", "align": "center", "baseline": "middle"},
 "encoding": {"text": {"field": "t"}}}
]
}
]
}
